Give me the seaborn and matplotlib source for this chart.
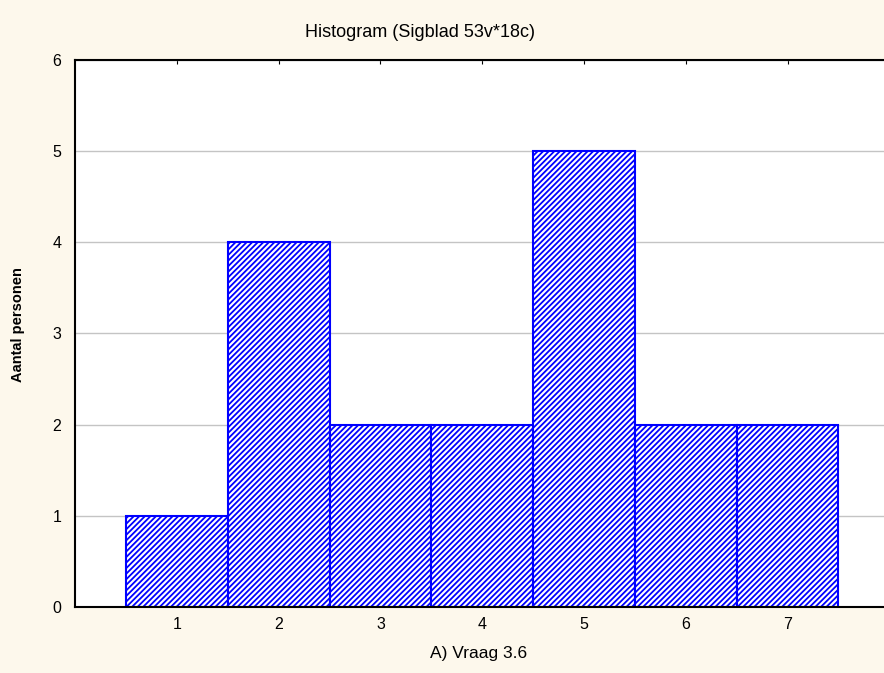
import matplotlib
matplotlib.use("Agg")
import matplotlib.pyplot as plt
import seaborn as sns
import pandas as pd

# Data
categories = [1, 2, 3, 4, 5, 6, 7]
counts = [1, 4, 2, 2, 5, 2, 2]
y_ticks = [0, 1, 2, 3, 4, 5, 6]

df = pd.DataFrame({'vraag': categories, 'aantal': counts})

sns.set_style("white")
plt.rcParams['font.family'] = ['Liberation Sans', 'DejaVu Sans']
plt.rcParams['hatch.linewidth'] = 1.3
plt.rcParams['text.color'] = 'black'
plt.rcParams['axes.labelcolor'] = 'black'
plt.rcParams['xtick.color'] = 'black'
plt.rcParams['ytick.color'] = 'black'

fig = plt.figure(figsize=(8.84, 6.73), dpi=100, facecolor='#fdf8ec')
ax = fig.add_axes([0.085, 0.098, 0.921, 0.813])
ax.set_facecolor('white')

sns.histplot(data=df, x='vraag', weights='aantal', discrete=True,
             ax=ax, color='blue')

# hatched bars like the original
for p in ax.patches:
    p.set_facecolor('white')
    p.set_alpha(1)
    p.set_edgecolor('blue')
    p.set_hatch('//////')
    p.set_linewidth(1.5)

ax.set_xlim(0, 8)
ax.set_ylim(0, 6)
ax.set_xticks(categories)
ax.set_yticks(y_ticks)
ax.yaxis.grid(True, color='#c4c4c4', linewidth=1)
ax.xaxis.grid(False)
ax.set_axisbelow(True)

for side in ['left', 'top', 'bottom']:
    ax.spines[side].set_color('black')
    ax.spines[side].set_linewidth(1.5)
ax.spines['right'].set_visible(False)

ax.tick_params(axis='both', direction='in', length=3, color='black',
               labelsize=11.5, top=True, right=True)
ax.tick_params(axis='x', pad=7)
ax.tick_params(axis='y', pad=10)

fig.text(0.475, 0.952, 'Histogram (Sigblad 53v*18c)', ha='center', va='center', fontsize=13)
ax.set_xlabel('A) Vraag 3.6', fontsize=12.5)
ax.xaxis.set_label_coords(0.495, -0.072)
ax.set_ylabel('Aantal personen', fontsize=10.5, fontweight='bold')
ax.yaxis.set_label_coords(-0.062, 0.516)

plt.savefig('out.png', dpi=100, facecolor=fig.get_facecolor())
